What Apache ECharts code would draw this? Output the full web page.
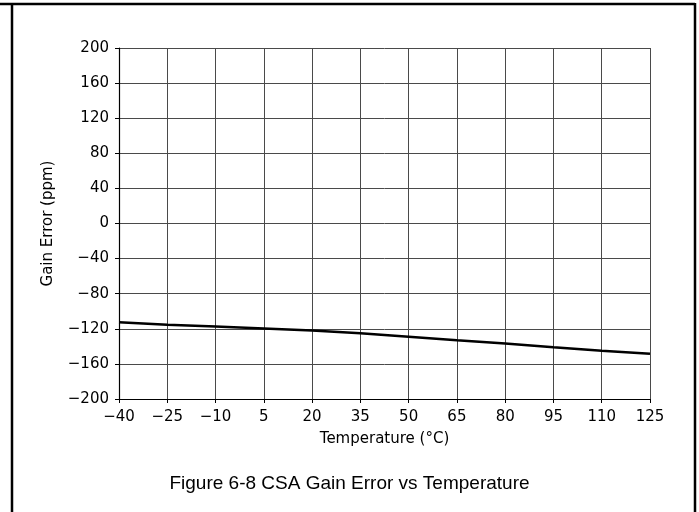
<!DOCTYPE html>
<html>
<head>
<meta charset="utf-8">
<script src="https://cdn.jsdelivr.net/npm/echarts@6/dist/echarts.min.js"></script>
<style>
  html, body { margin: 0; padding: 0; background: #fff; }
  #chart { width: 699px; height: 512px; }
</style>
</head>
<body>
<div id="chart"></div>
<script>
// Temperature sweep (°C) and measured CSA gain error (ppm)
const temperatures = [-40, -25, -10, 5, 20, 35, 50, 65, 80, 95, 110, 125];
const gainError = [-112.5, -115.3, -117.5, -119.7, -122.0, -125.0, -129.0, -133.0, -136.8, -141.0, -145.0, -148.5];

const xTicks = [-40, -25, -10, 5, 20, 35, 50, 65, 80, 95, 110, 125];
const yTicks = [-200, -160, -120, -80, -40, 0, 40, 80, 120, 160, 200];

const figureCaption = 'Figure 6-8 CSA Gain Error vs Temperature';
const xName = 'Temperature (°C)';
const yName = 'Gain Error (ppm)';

const chart = echarts.init(document.getElementById('chart'), null, { renderer: 'canvas' });

const tickFont = { fontFamily: 'DejaVu Sans', fontSize: 15, color: '#000' };
const minus = v => String(v).replace('-', '\u2212');

chart.setOption({
  animation: false,
  backgroundColor: '#fff',
  grid: { left: 119, top: 48, width: 531, height: 351, containLabel: false },
  title: {
    text: figureCaption,
    left: 'center',
    top: 469,
    textStyle: { fontFamily: 'Liberation Sans', fontSize: 19, fontWeight: 'normal', color: '#000' }
  },
  xAxis: {
    type: 'value',
    min: -40,
    max: 125,
    interval: 15,
    name: xName,
    nameLocation: 'middle',
    nameGap: 33,
    nameTextStyle: tickFont,
    axisLine: { show: true, onZero: false, lineStyle: { color: '#000', width: 1.2 } },
    axisTick: { show: true, inside: false, length: 4, lineStyle: { color: '#000', width: 1 } },
    axisLabel: Object.assign({ margin: 11, formatter: minus }, tickFont),
    splitLine: { show: true, lineStyle: { color: '#4a4a4a', width: 1 } }
  },
  yAxis: {
    type: 'value',
    min: -200,
    max: 200,
    interval: 40,
    name: yName,
    nameLocation: 'middle',
    nameGap: 63,
    nameTextStyle: tickFont,
    axisLine: { show: true, onZero: false, lineStyle: { color: '#000', width: 1.2 } },
    axisTick: { show: true, inside: false, length: 4, lineStyle: { color: '#000', width: 1 } },
    axisLabel: Object.assign({ margin: 10, formatter: minus }, tickFont),
    splitLine: { show: true, lineStyle: { color: '#4a4a4a', width: 1 } }
  },
  series: [{
    type: 'line',
    data: temperatures.map((t, i) => [t, gainError[i]]),
    showSymbol: false,
    smooth: false,
    lineStyle: { color: '#000', width: 2.5 },
    z: 5
  }],
  graphic: [
    // frame around the figure
    { type: 'line', shape: { x1: 0, y1: 4, x2: 695, y2: 4 }, style: { stroke: '#000', lineWidth: 2.5 } },
    { type: 'line', shape: { x1: 12, y1: 3, x2: 12, y2: 512 }, style: { stroke: '#000', lineWidth: 2.5 } },
    { type: 'line', shape: { x1: 695, y1: 3, x2: 695, y2: 512 }, style: { stroke: '#000', lineWidth: 2.5 } }
  ]
});
</script>
</body>
</html>
